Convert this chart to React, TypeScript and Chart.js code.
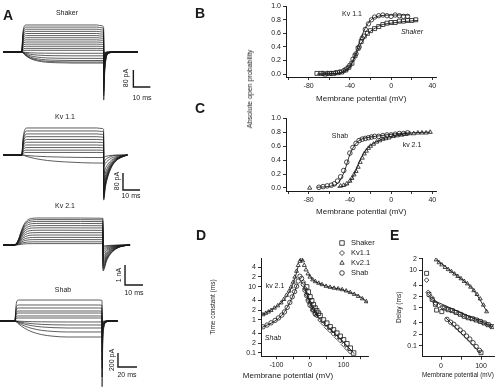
import React, { useEffect, useRef } from "react";
import { Chart, registerables } from "chart.js";
import { drawPoint } from "chart.js/helpers";

Chart.register(...registerables);

const FONT = '"Liberation Sans", Arial, Helvetica, sans-serif';
const INK = "#1a1a1a";
Chart.defaults.font.family = FONT;

// ---------------- Panel A: current traces ----------------
// Shaker (ms, pA)
const shakerTime = [-11, 0, 0.4, 1.2, 2.5, 44, 47, 48, 48.05, 48.6, 49.4, 50.5, 53, 58, 68];
const shakerRise = [0, 0, 0.55, 0.93, 1, 1, 0.97, 0.92, 0, 0, 0, 0, 0, 0, 0];
const shakerTailShape = [0, 0, 0, 0, 0, 0, 0, 0, 1, 0.45, 0.15, 0.04, 0.01, 0, 0];
const shakerLevels = [127, 117, 107, 97, 87, 77, 67, 57, 47, 37, 27, 17, 8];
const shakerTails = [-226, -205, -185, -165, -140, -120, -100, -80, -60, -45, -30, -18, -8];
const shakerSlowTime = [-11, 0, 2, 5, 9, 14, 20, 30, 48, 48.6, 50, 53, 58, 68];
const shakerSlowShape = [0, 0, 0.3, 0.6, 0.8, 0.92, 0.97, 1, 1, 0.5, 0.15, 0.03, 0, 0];
const shakerSlowLevels = [-6, -18, -30, -40, -47, -52];
const shakerScaleBar = [65.5, -164.5, 10, 80];

// Kv1.1 (ms, pA)
const kv11Time = [-11, 0, 0.5, 1.5, 3, 44, 47, 48, 48.05, 49, 50.5, 52.5, 55, 58.5, 62];
const kv11Rise = [0, 0, 0.5, 0.9, 1, 1, 0.98, 0.95, 0, 0, 0, 0, 0, 0, 0];
const kv11TailShape = [0, 0, 0, 0, 0, 0, 0, 0, 1, 0.72, 0.48, 0.28, 0.14, 0.05, 0];
const kv11Levels = [127, 113, 99, 86, 73, 60, 47, 35, 23, 12];
const kv11Tails = [-212, -205, -195, -185, -172, -158, -140, -118, -90, -55];
const kv11SlowTime = [-11, 0, 3, 8, 15, 25, 35, 48, 49, 51, 55, 62];
const kv11SlowShape = [0, 0, 0.2, 0.45, 0.68, 0.85, 0.95, 1, 0.6, 0.3, 0.05, 0];
const kv11SlowLevels = [-12, -38];
const kv11ScaleBar = [59.4, -164.5, 10, 80];

// Kv2.1 (ms, nA)
const kv21Time = [-5.5, 0, 1.5, 3, 4.5, 6, 8, 11, 15, 25, 49.9, 50, 52, 54, 57, 60, 65];
const kv21Rise = [0, 0, 0.03, 0.2, 0.5, 0.75, 0.92, 0.99, 1, 1, 0.99, 0, 0, 0, 0, 0, 0];
const kv21TailShape = [0, 0, 0, 0, 0, 0, 0, 0, 0, 0, 0, 1, 0.6, 0.36, 0.16, 0.06, 0];
const kv21Levels = [1.35, 1.27, 1.18, 1.08, 0.97, 0.86, 0.74, 0.62, 0.5, 0.38, 0.27, 0.16, 0.07];
const kv21Tails = [-1.3, -1.22, -1.13, -1.03, -0.92, -0.8, -0.68, -0.56, -0.44, -0.33, -0.22, -0.12, -0.05];
const kv21ScaleBar = [62.2, -2.0, 10, 1];

// Shab (ms, pA)
const shabTime = [-16, 0, 0.8, 2, 4, 88, 91, 91.6, 91.65, 92.3, 93.5, 96, 100, 108];
const shabRise = [0, 0, 0.6, 0.95, 1, 1, 0.99, 0.98, 0, 0, 0, 0, 0, 0];
const shabTailShape = [0, 0, 0, 0, 0, 0, 0, 0, 1, 0.35, 0.1, 0.02, 0, 0];
const shabLevels = [300, 229, 186, 143, 114, 72, 43];
const shabTails = [-940, -800, -680, -560, -440, -320, -200];
const shabSlowTime = [-16, 0, 4, 10, 18, 28, 40, 55, 91.6, 92.3, 94, 98, 108];
const shabSlowShape = [0, 0, 0.2, 0.45, 0.68, 0.85, 0.95, 1, 1, 0.4, 0.1, 0, 0];
const shabSlowLevels = [-14, -57, -100, -157, -229];
const shabScaleBar = [108.4, -658, 20, 200];

// ---------------- Panel B: open probability ----------------
const bKv11X = [-66, -62, -58, -54, -50, -46, -43, -40, -37, -34, -31, -28, -25, -22, -19, -16, -12, -8, -4, 0, 4, 8, 12, 16];
const bKv11Y = [0.01, 0.01, 0.01, 0.02, 0.03, 0.05, 0.08, 0.13, 0.22, 0.3, 0.4, 0.53, 0.66, 0.74, 0.8, 0.84, 0.86, 0.87, 0.86, 0.85, 0.87, 0.86, 0.85, 0.85];
const bShakerX = [-72, -68, -64, -60, -56, -52, -48, -44, -41, -38, -35, -32, -29, -26, -23, -20, -16, -12, -8, -4, 0, 4, 8, 12, 16, 20, 24];
const bShakerY = [0.01, 0.01, 0.0, 0.01, 0.01, 0.02, 0.03, 0.06, 0.1, 0.16, 0.27, 0.38, 0.48, 0.56, 0.6, 0.64, 0.67, 0.7, 0.73, 0.75, 0.76, 0.76, 0.78, 0.78, 0.79, 0.79, 0.8];
const bFitKv11X = [-70, -60, -50, -45, -40, -35, -30, -25, -20, -15, -10, 0, 18];
const bFitKv11Y = [0, 0.005, 0.02, 0.05, 0.12, 0.28, 0.5, 0.68, 0.79, 0.84, 0.86, 0.87, 0.87];
const bFitShakerX = [-72, -50, -45, -40, -35, -30, -25, -20, -15, -10, 0, 10, 26];
const bFitShakerY = [0, 0.01, 0.04, 0.1, 0.25, 0.42, 0.55, 0.63, 0.68, 0.72, 0.75, 0.77, 0.79];

// ---------------- Panel C ----------------
const cShabX = [-70, -66, -62, -58, -55, -52, -49, -46, -43, -40, -37, -34, -31, -28, -25, -22, -19, -16, -12, -8, -4, 0, 4, 8, 12, 16];
const cShabY = [0.01, 0.02, 0.03, 0.04, 0.06, 0.1, 0.16, 0.25, 0.37, 0.5, 0.58, 0.64, 0.68, 0.7, 0.71, 0.72, 0.73, 0.74, 0.74, 0.75, 0.76, 0.76, 0.77, 0.78, 0.78, 0.79];
const cKv21X = [-79, -49, -46, -43, -40, -38, -36, -34, -32, -30, -28, -26, -24, -22, -20, -17, -14, -11, -8, -5, -2, 2, 6, 10, 14, 18, 22, 26, 30, 34, 38];
const cKv21Y = [0.0, 0.03, 0.04, 0.06, 0.1, 0.14, 0.19, 0.24, 0.3, 0.37, 0.43, 0.49, 0.53, 0.57, 0.6, 0.63, 0.66, 0.68, 0.7, 0.71, 0.72, 0.74, 0.75, 0.76, 0.77, 0.78, 0.78, 0.79, 0.79, 0.79, 0.8];
const cFitShabX = [-72, -55, -50, -45, -40, -35, -30, -20, -10, 0, 16];
const cFitShabY = [0.01, 0.04, 0.1, 0.25, 0.48, 0.62, 0.69, 0.73, 0.75, 0.77, 0.79];
const cFitKv21X = [-52, -45, -40, -35, -30, -25, -20, -10, 0, 10, 20, 38];
const cFitKv21Y = [0.01, 0.03, 0.09, 0.22, 0.4, 0.53, 0.61, 0.69, 0.74, 0.77, 0.79, 0.8];

// ---------------- Panel D: time constants ----------------
const dShakerX = [-10, -5, 0, 5, 10, 15, 20, 25, 30, 40, 50, 60, 70, 80, 90, 100, 110, 120, 130];
const dShakerY = [10, 7, 5, 3.8, 2.9, 2.3, 1.9, 1.6, 1.35, 1.0, 0.8, 0.62, 0.5, 0.4, 0.32, 0.25, 0.19, 0.14, 0.1];
const dKv11X = [-20, -15, -10, -5, 0, 5, 10, 15, 20, 30, 40, 50, 60, 70, 80, 90, 100, 110, 120];
const dKv11Y = [14, 9, 6, 4.2, 3.2, 2.5, 2.0, 1.6, 1.35, 1.0, 0.78, 0.6, 0.48, 0.38, 0.3, 0.24, 0.18, 0.14, 0.11];
const dKv21X = [-140, -132, -124, -116, -106, -96, -86, -78, -70, -62, -56, -50, -45, -40, -35, -30, -26, -22, -17, -12, -6, 0, 8, 16, 26, 36, 48, 60, 72, 84, 96, 108, 120, 132, 144, 156, 168];
const dKv21Y = [1.45, 1.6, 1.75, 1.95, 2.3, 2.7, 3.3, 4.2, 5.6, 7.5, 10, 14, 20, 30, 45, 60, 68, 62, 45, 33, 25, 20, 16.5, 14.5, 13, 11.8, 10.5, 9.8, 9.2, 8.8, 8.3, 7.6, 6.8, 6.0, 5.2, 4.4, 3.6];
const dShabX = [-140, -128, -116, -104, -94, -84, -76, -68, -60, -53, -46, -40, -35, -30, -25, -20, -15, -10, -5, 0, 8, 16];
const dShabY = [0.62, 0.7, 0.82, 0.97, 1.15, 1.4, 1.75, 2.4, 3.4, 5, 7.2, 10.5, 15, 21, 18, 12, 8, 5.5, 3.8, 2.8, 2.0, 1.5];
const dFitKv21LX = [-146, -120, -100, -80, -60, -45, -35];
const dFitKv21LY = [1.35, 1.9, 2.5, 3.8, 7.5, 18, 42];
const dFitKv21RX = [-5, 10, 30, 60, 90, 120, 150, 172];
const dFitKv21RY = [24, 16, 12.5, 9.8, 8.6, 6.8, 5.0, 3.3];
const dFitShabLX = [-146, -120, -100, -80, -60, -45, -38];
const dFitShabLY = [0.58, 0.76, 1.0, 1.55, 3.4, 7.5, 12];
const dFitRightX = [-15, 0, 20, 40, 60, 80, 100, 120, 132];
const dFitRightY = [9, 3.3, 1.4, 0.8, 0.52, 0.34, 0.21, 0.13, 0.095];

// ---------------- Panel E: delay ----------------
const eKv21X = [-12, -5, 2, 10, 18, 26, 34, 42, 50, 58, 66, 74, 82, 90, 98, 106, 114];
const eKv21Y = [19, 16, 14, 12, 10.5, 9.3, 8.0, 6.9, 6.0, 5.1, 4.4, 3.6, 2.9, 2.3, 1.75, 1.2, 0.8];
const eShakerX = [-36, -30, -22, -14, -11, 2, 8, 18, 28, 38, 48, 58, 68, 78, 88, 98, 108, 118, 128, 100];
const eShakerY = [8.3, 2.3, 1.7, 1.25, 0.88, 0.8, 1.0, 0.9, 0.85, 0.76, 0.68, 0.6, 0.55, 0.52, 0.48, 0.44, 0.4, 0.36, 0.32, 0.065];
const eKv11X = [-36, -32, -26, -20, -14, -6, 4, 14, 24, 34, 44, 54, 64, 74, 84, 94, 104, 114, 124];
const eKv11Y = [5.5, 2.6, 2.0, 1.6, 1.35, 1.15, 1.05, 0.95, 0.88, 0.8, 0.72, 0.65, 0.58, 0.53, 0.5, 0.46, 0.41, 0.37, 0.33];
const eShabX = [15, 24, 32, 40, 48, 56, 64, 72, 80, 88, 96];
const eShabY = [0.5, 0.42, 0.37, 0.31, 0.26, 0.22, 0.18, 0.15, 0.12, 0.095, 0.075];
const eFitTopX = [-12, 40, 80, 115];
const eFitTopY = [19, 7.2, 3.1, 0.8];
const eFitMidX = [-22, 131];
const eFitMidY = [1.65, 0.31];
const eFitLowX = [12, 100];
const eFitLowY = [0.55, 0.062];

// ---------------- helpers ----------------
type TextItem = { text: string; x: number; y: number; size?: number; rot?: number; italic?: boolean; align?: CanvasTextAlign };
type LegendItem = { label: string; style: string; radius: number; x: number; tx: number; y: number };

function makeTextPlugin(ox: number, oy: number, items: TextItem[], legend: LegendItem[] = []) {
  return {
    id: "pageTexts",
    afterDraw(chart: any) {
      const ctx = chart.ctx as CanvasRenderingContext2D;
      items.forEach((it) => {
        ctx.save();
        ctx.fillStyle = INK;
        ctx.font = `${it.italic ? "italic " : ""}${it.size || 7}px ${FONT}`;
        ctx.textAlign = it.align || "center";
        ctx.textBaseline = "middle";
        ctx.translate(it.x - ox, it.y - oy);
        if (it.rot) ctx.rotate((it.rot * Math.PI) / 180);
        ctx.fillText(it.text, 0, 0);
        ctx.restore();
      });
      legend.forEach((lg) => {
        ctx.save();
        ctx.strokeStyle = INK;
        ctx.fillStyle = "rgba(0,0,0,0)";
        ctx.lineWidth = 0.8;
        drawPoint(ctx, { pointStyle: lg.style as any, radius: lg.radius, rotation: 0, borderWidth: 0.8 } as any, lg.x - ox, lg.y - oy);
        ctx.fillStyle = INK;
        ctx.font = `7.5px ${FONT}`;
        ctx.textAlign = "left";
        ctx.textBaseline = "middle";
        ctx.fillText(lg.label, lg.tx - ox, lg.y - oy);
        ctx.restore();
      });
    },
  };
}

function stepTraces(time: number[], rise: number[], tail: number[], levels: number[], tails: number[]) {
  return levels.map((L, k) => time.map((t, i) => ({ x: t, y: rise[i] * L + tail[i] * tails[k] })));
}
function slowTraces(time: number[], shape: number[], levels: number[]) {
  return levels.map((L) => time.map((t, i) => ({ x: t, y: shape[i] * L })));
}
const pts = (xs: number[], ys: number[]) => xs.map((x, i) => ({ x, y: ys[i] }));

function traceConfig(p: { top: number; height: number; tmin: number; tmax: number; ymin: number; ymax: number; traces: { x: number; y: number }[][]; bar: number[]; texts: TextItem[] }) {
  const [t0, y0, dt, dy] = p.bar;
  return {
    type: "line",
    data: {
      datasets: [
        ...p.traces.map((d) => ({ data: d, borderColor: INK, borderWidth: 0.7, pointRadius: 0, cubicInterpolationMode: "monotone", fill: false })),
        { data: [{ x: t0, y: y0 + dy }, { x: t0, y: y0 }, { x: t0 + dt, y: y0 }], borderColor: INK, borderWidth: 1.4, pointRadius: 0, tension: 0, fill: false },
      ],
    },
    options: {
      responsive: false,
      animation: false,
      events: [],
      layout: { padding: 0 },
      plugins: { legend: { display: false }, tooltip: { enabled: false } },
      scales: {
        x: { type: "linear", display: false, min: p.tmin, max: p.tmax },
        y: { type: "linear", display: false, min: p.ymin, max: p.ymax },
      },
    },
    plugins: [makeTextPlugin(0, p.top, p.texts)],
  };
}

type AxisSpec = { min: number; max: number; ticks: number[]; label: (v: number) => string; log?: boolean; title?: string; titleSize?: number; titlePad?: number };

function axisConfig(spec: AxisSpec, horizontal: boolean, size: number) {
  return {
    type: spec.log ? "logarithmic" : "linear",
    position: horizontal ? "bottom" : "left",
    min: spec.min,
    max: spec.max,
    afterBuildTicks: (s: any) => {
      s.ticks = spec.ticks.map((v) => ({ value: v }));
    },
    afterFit: (s: any) => {
      if (horizontal) s.height = size;
      else s.width = size;
    },
    grid: { display: true, drawOnChartArea: false, drawTicks: true, tickLength: 3, color: INK, lineWidth: 0.9 },
    border: { display: true, color: INK, width: 1 },
    ticks: {
      autoSkip: false,
      maxRotation: 0,
      minRotation: 0,
      padding: 2,
      color: INK,
      font: { family: FONT, size: 7 },
      callback: (v: any) => spec.label(Number(v)),
    },
    title: spec.title
      ? {
          display: true,
          text: spec.title,
          color: INK,
          font: { family: FONT, size: spec.titleSize || 8 },
          padding: horizontal ? { top: 0, bottom: spec.titlePad ?? 4 } : { top: spec.titlePad ?? 4, bottom: 0 },
        }
      : { display: false },
  };
}

function plotConfig(p: {
  box: { left: number; top: number; width: number; height: number };
  area: { left: number; top: number; right: number; bottom: number };
  x: AxisSpec;
  y: AxisSpec;
  datasets: any[];
  texts?: TextItem[];
  legend?: LegendItem[];
}) {
  return {
    type: "scatter",
    data: { datasets: p.datasets },
    options: {
      responsive: false,
      animation: false,
      events: [],
      layout: { padding: { left: 0, top: p.area.top - p.box.top, right: p.box.left + p.box.width - p.area.right, bottom: 0 } },
      plugins: { legend: { display: false }, tooltip: { enabled: false } },
      scales: {
        x: axisConfig(p.x, true, p.box.top + p.box.height - p.area.bottom),
        y: axisConfig(p.y, false, p.area.left - p.box.left),
      },
    },
    plugins: [makeTextPlugin(p.box.left, p.box.top, p.texts || [], p.legend || [])],
  };
}

const marker = (xs: number[], ys: number[], style: string, r: number) => ({
  data: pts(xs, ys),
  showLine: false,
  pointStyle: style,
  pointRadius: r,
  pointBorderColor: INK,
  pointBackgroundColor: "rgba(0,0,0,0)",
  pointBorderWidth: 0.8,
});
const fitLine = (xs: number[], ys: number[]) => ({
  data: pts(xs, ys),
  showLine: true,
  pointRadius: 0,
  borderColor: INK,
  borderWidth: 0.9,
  cubicInterpolationMode: "monotone",
});

const linLabel40 = (v: number) => (v % 40 === 0 ? String(v) : "");
const probLabel = (v: number) => v.toFixed(1);
const logLabel = (v: number) => {
  if (v === 0.1 || v === 1 || v === 10) return String(v);
  return String(v).replace(/^0\./, "").replace(/0$/, "");
};

// ---------------- chart configs ----------------
const BOX_B = { left: 250, top: 0, width: 200, height: 108 };
const BOX_C = { left: 250, top: 112, width: 200, height: 109 };
const BOX_D = { left: 205, top: 222, width: 175, height: 163 };
const BOX_E = { left: 390, top: 222, width: 110, height: 163 };

const probX = (): AxisSpec => ({ min: -102, max: 44, ticks: [-100, -80, -60, -40, -20, 0, 20, 40], label: linLabel40, title: "Membrane potential (mV)", titleSize: 8, titlePad: 4.2 });
const probY = (): AxisSpec => ({ min: -0.043, max: 1, ticks: [0, 0.2, 0.4, 0.6, 0.8, 1.0], label: probLabel });

const configs: Record<string, () => any> = {
  shaker: () =>
    traceConfig({
      top: 5, height: 103, tmin: -12.9, tmax: 84.1, ymin: -263.2, ymax: 220.9,
      traces: [
        ...stepTraces(shakerTime, shakerRise, shakerTailShape, shakerLevels, shakerTails),
        ...slowTraces(shakerSlowTime, shakerSlowShape, shakerSlowLevels),
      ],
      bar: shakerScaleBar,
      texts: [
        { text: "Shaker", x: 67, y: 13 },
        { text: "80 pA", x: 126, y: 78, rot: -90 },
        { text: "10 ms", x: 142, y: 98 },
      ],
    }),
  kv11: () =>
    traceConfig({
      top: 108, height: 97, tmin: -12.9, tmax: 84.1, ymin: -235, ymax: 220.9,
      traces: [
        ...stepTraces(kv11Time, kv11Rise, kv11TailShape, kv11Levels, kv11Tails),
        ...slowTraces(kv11SlowTime, kv11SlowShape, kv11SlowLevels),
      ],
      bar: kv11ScaleBar,
      texts: [
        { text: "Kv 1.1", x: 65, y: 117 },
        { text: "80 pA", x: 117, y: 181, rot: -90 },
        { text: "10 ms", x: 131, y: 196 },
      ],
    }),
  kv21: () =>
    traceConfig({
      top: 198, height: 102, tmin: -7.22, tmax: 84.4, ymin: -2.75, ymax: 2.35,
      traces: stepTraces(kv21Time, kv21Rise, kv21TailShape, kv21Levels, kv21Tails),
      bar: kv21ScaleBar,
      texts: [
        { text: "Kv 2.1", x: 65, y: 206 },
        { text: "1 nA", x: 119, y: 275, rot: -90 },
        { text: "10 ms", x: 134, y: 293 },
      ],
    }),
  shab: () =>
    traceConfig({
      top: 283, height: 104, tmin: -15.8, tmax: 157.9, ymin: -943.8, ymax: 543.4,
      traces: [
        ...stepTraces(shabTime, shabRise, shabTailShape, shabLevels, shabTails),
        ...slowTraces(shabSlowTime, shabSlowShape, shabSlowLevels),
      ],
      bar: shabScaleBar,
      texts: [
        { text: "Shab", x: 63, y: 290 },
        { text: "200 pA", x: 112, y: 360, rot: -90 },
        { text: "20 ms", x: 127, y: 375 },
      ],
    }),
  b: () =>
    plotConfig({
      box: BOX_B,
      area: { left: 286, top: 4, right: 436.4, bottom: 77 },
      x: probX(),
      y: probY(),
      datasets: [
        fitLine(bFitKv11X, bFitKv11Y),
        fitLine(bFitShakerX, bFitShakerY),
        marker(bKv11X, bKv11Y, "circle", 2.2),
        marker(bShakerX, bShakerY, "rect", 2.8),
      ],
      texts: [
        { text: "Kv 1.1", x: 352, y: 14 },
        { text: "Shaker", x: 412, y: 32, italic: true },
      ],
    }),
  c: () =>
    plotConfig({
      box: BOX_C,
      area: { left: 286, top: 118, right: 436.4, bottom: 191 },
      x: probX(),
      y: probY(),
      datasets: [
        fitLine(cFitShabX, cFitShabY),
        fitLine(cFitKv21X, cFitKv21Y),
        marker(cShabX, cShabY, "circle", 2.3),
        marker(cKv21X, cKv21Y, "triangle", 2.4),
      ],
      texts: [
        { text: "Shab", x: 340, y: 136 },
        { text: "kv 2.1", x: 412, y: 145 },
      ],
    }),
  d: () =>
    plotConfig({
      box: BOX_D,
      area: { left: 261, top: 258, right: 368, bottom: 356.2 },
      x: { min: -146, max: 173, ticks: [-100, -50, 0, 50, 100, 150], label: (v) => (v % 100 === 0 ? String(v) : "") },
      y: { min: 0.08, max: 75, log: true, ticks: [0.1, 0.2, 0.4, 1, 2, 4, 10, 20, 40], label: logLabel, title: "Time constant (ms)", titleSize: 6.5, titlePad: 4 },
      datasets: [
        fitLine(dFitKv21LX, dFitKv21LY),
        fitLine(dFitKv21RX, dFitKv21RY),
        fitLine(dFitShabLX, dFitShabLY),
        fitLine(dFitRightX, dFitRightY),
        marker(dShakerX, dShakerY, "rect", 3.2),
        marker(dKv11X, dKv11Y, "rectRot", 2.3),
        marker(dKv21X, dKv21Y, "triangle", 2.3),
        marker(dShabX, dShabY, "circle", 2.2),
      ],
      texts: [
        { text: "kv 2.1", x: 275, y: 286 },
        { text: "Shab", x: 273, y: 338, italic: true },
        { text: "Membrane potential (mV)", x: 288, y: 376, size: 8 },
      ],
      legend: [
        { label: "Shaker", style: "rect", radius: 3.2, x: 342, tx: 351, y: 243 },
        { label: "Kv1.1", style: "rectRot", radius: 2.5, x: 342, tx: 351, y: 253 },
        { label: "Kv2.1", style: "triangle", radius: 2.5, x: 342, tx: 351, y: 263 },
        { label: "Shab", style: "circle", radius: 2.3, x: 342, tx: 351, y: 273 },
      ],
    }),
  e: () =>
    plotConfig({
      box: BOX_E,
      area: { left: 422, top: 258, right: 494, bottom: 356.7 },
      x: { min: -47.5, max: 132.5, ticks: [0, 50, 100], label: (v) => (v % 100 === 0 ? String(v) : ""), title: "Membrane potential (mV)", titleSize: 7.5, titlePad: 5.5 },
      y: { min: 0.051, max: 21.2, log: true, ticks: [0.1, 0.2, 0.4, 1, 2, 4, 10, 20], label: logLabel, title: "Delay (ms)", titleSize: 6.5, titlePad: 5 },
      datasets: [
        fitLine(eFitTopX, eFitTopY),
        fitLine(eFitMidX, eFitMidY),
        fitLine(eFitLowX, eFitLowY),
        marker(eKv21X, eKv21Y, "triangle", 2.3),
        marker(eShakerX, eShakerY, "rect", 2.8),
        marker(eKv11X, eKv11Y, "rectRot", 2.3),
        marker(eShabX, eShabY, "circle", 2.2),
      ],
    }),
};

function ChartCanvas({ left, top, width, height, make }: { left: number; top: number; width: number; height: number; make: () => any }) {
  const ref = useRef<HTMLCanvasElement | null>(null);
  useEffect(() => {
    if (!ref.current) return;
    const chart = new Chart(ref.current, make());
    return () => chart.destroy();
  }, []);
  return <canvas ref={ref} width={width} height={height} style={{ position: "absolute", left, top, width, height }} />;
}

const letterStyle = (left: number, top: number): React.CSSProperties => ({
  position: "absolute",
  left,
  top,
  fontFamily: FONT,
  fontWeight: 700,
  fontSize: 14,
  lineHeight: "14px",
  color: INK,
});

export default function App() {
  return (
    <div style={{ position: "fixed", left: 0, top: 0, width: 500, height: 387, background: "#fff", overflow: "hidden" }}>
      <ChartCanvas left={0} top={5} width={165} height={103} make={configs.shaker} />
      <ChartCanvas left={0} top={108} width={165} height={97} make={configs.kv11} />
      <ChartCanvas left={0} top={198} width={165} height={102} make={configs.kv21} />
      <ChartCanvas left={0} top={283} width={165} height={104} make={configs.shab} />
      <ChartCanvas {...BOX_B} make={configs.b} />
      <ChartCanvas {...BOX_C} make={configs.c} />
      <ChartCanvas {...BOX_D} make={configs.d} />
      <ChartCanvas {...BOX_E} make={configs.e} />
      <div
        style={{
          position: "absolute",
          left: 250,
          top: 89,
          transform: "translate(-50%, -50%) rotate(-90deg)",
          fontFamily: FONT,
          fontSize: 7,
          lineHeight: "8px",
          whiteSpace: "nowrap",
          color: INK,
        }}
      >
        Absolute open probability
      </div>
      <div style={letterStyle(3, 8)}>A</div>
      <div style={letterStyle(195, 6)}>B</div>
      <div style={letterStyle(195, 101)}>C</div>
      <div style={letterStyle(196, 228)}>D</div>
      <div style={letterStyle(390, 228)}>E</div>
    </div>
  );
}
